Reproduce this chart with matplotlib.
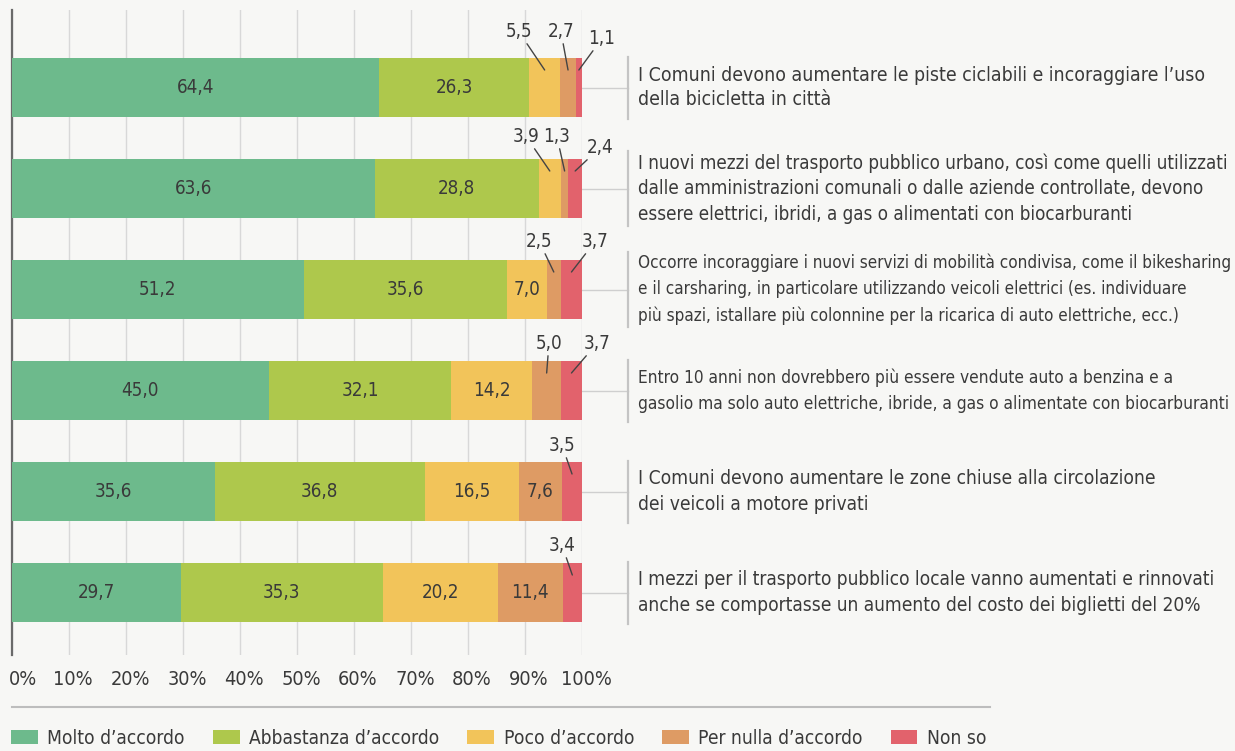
import numpy as np
import matplotlib
matplotlib.use('Agg')
import matplotlib.pyplot as plt
import matplotlib.transforms as mtransforms
from matplotlib import font_manager
from matplotlib.lines import Line2D

# Answer categories (stacked from left to right)
answers = ['Molto d\u2019accordo', 'Abbastanza d\u2019accordo', 'Poco d\u2019accordo',
           'Per nulla d\u2019accordo', 'Non so']
colors = ['#6dba8c', '#aec84c', '#f2c45a', '#de9b64', '#e2626c']

# Percentages for each statement, one list per answer
molto = [64.4, 63.6, 51.2, 45.0, 35.6, 29.7]
abbastanza = [26.3, 28.8, 35.6, 32.1, 36.8, 35.3]
poco = [5.5, 3.9, 7.0, 14.2, 16.5, 20.2]
per_nulla = [2.7, 1.3, 2.5, 5.0, 7.6, 11.4]
non_so = [1.1, 2.4, 3.7, 3.7, 3.5, 3.4]

statements = [
    'I Comuni devono aumentare le piste ciclabili e incoraggiare l\u2019uso\n'
    'della bicicletta in citt\u00e0',
    'I nuovi mezzi del trasporto pubblico urbano, cos\u00ec come quelli utilizzati\n'
    'dalle amministrazioni comunali o dalle aziende controllate, devono\n'
    'essere elettrici, ibridi, a gas o alimentati con biocarburanti',
    'Occorre incoraggiare i nuovi servizi di mobilit\u00e0 condivisa, come il bikesharing\n'
    'e il carsharing, in particolare utilizzando veicoli elettrici (es. individuare\n'
    'pi\u00f9 spazi, istallare pi\u00f9 colonnine per la ricarica di auto elettriche, ecc.)',
    'Entro 10 anni non dovrebbero pi\u00f9 essere vendute auto a benzina e a\n'
    'gasolio ma solo auto elettriche, ibride, a gas o alimentate con biocarburanti',
    'I Comuni devono aumentare le zone chiuse alla circolazione\n'
    'dei veicoli a motore privati',
    'I mezzi per il trasporto pubblico locale vanno aumentati e rinnovati\n'
    'anche se comportasse un aumento del costo dei biglietti del 20%',
]

ticks = list(range(0, 101, 10))
tick_labels = ['{}%'.format(t) for t in ticks]

# Placement of the small values written above the bar:
# (row, segment, label x in %, label height above bar centre in px)
callouts = [
    (0, 2, 88.9, 56), (0, 3, 96.3, 56), (0, 4, 103.5, 49),
    (1, 2, 90.2, 52), (1, 3, 95.6, 52), (1, 4, 103.2, 41),
    (2, 3, 92.5, 48), (2, 4, 102.3, 48),
    (3, 3, 94.2, 47), (3, 4, 102.6, 47),
    (4, 4, 96.5, 46),
    (5, 4, 96.5, 47),
]
# right edge (px) of the widest line of each statement
text_right = [1205, 1230, 1232, 1232, 1155, 1214]

# condensed face if available
names = {f.name for f in font_manager.fontManager.ttflist}
if 'Liberation Sans Narrow' in names:
    plt.rcParams['font.family'] = 'Liberation Sans Narrow'
else:
    plt.rcParams['font.family'] = 'DejaVu Sans'
    plt.rcParams['font.stretch'] = 'condensed'

TXT = '#3a3a3a'
BG = '#f7f7f5'
PX = 101.0          # pixels per row
BAR_H = 59 / PX
TEXT_X = 638        # left edge of statements, px

fig = plt.figure(figsize=(12.35, 7.51), dpi=100, facecolor=BG)
ax = fig.add_axes([12 / 1235, 1 - 655 / 751, 570 / 1235, 645 / 751])
ax.set_facecolor(BG)

series = np.array([molto, abbastanza, poco, per_nulla, non_so])
rows = np.arange(len(molto))
left = np.zeros(len(molto))
for vals, name, col in zip(series, answers, colors):
    ax.barh(rows, vals, left=left, height=BAR_H, color=col, label=name, zorder=3)
    left += vals

starts = np.vstack([np.zeros(len(molto)), np.cumsum(series, axis=0)[:-1]])
centres = starts + series / 2

# values written inside the segments
for s in range(series.shape[0]):
    for r in rows:
        v = series[s, r]
        if v >= 7:
            ax.text(centres[s, r], r, '{:.1f}'.format(v).replace('.', ','),
                    ha='center', va='center', fontsize=13.5, color=TXT, zorder=4)

# small values with leader lines
for r, s, lx, dy in callouts:
    v = series[s, r]
    ax.annotate('{:.1f}'.format(v).replace('.', ','),
                xy=(centres[s, r], r - 17.5 / PX), xytext=(lx, r - dy / PX),
                ha='center', va='center', fontsize=13.5, color=TXT,
                annotation_clip=False, zorder=5,
                arrowprops=dict(arrowstyle='-', color='#444444', lw=1,
                                shrinkA=0, shrinkB=0))

ax.set_xlim(0, 100)
ax.set_ylim((655 - 87.5) / PX, (10 - 87.5) / PX)

# statements on the right with connector and bracket
x_text = (TEXT_X - 12) / 5.7
x_brk = (628 - 12) / 5.7
texts = []
for r, txt in enumerate(statements):
    n = txt.count('\n') + 1
    half = (13 * n + 36) / 2 / PX
    ax.plot([100, x_brk], [r, r], color='#cfcfcf', lw=1, clip_on=False)
    ax.plot([x_brk, x_brk], [r - half, r + half], color='#c4c4c4', lw=1.6,
            clip_on=False)
    t = ax.text(x_text, r, txt, ha='left', va='center', fontsize=15, color=TXT,
                linespacing=1.22, clip_on=False)
    texts.append(t)

# shrink each statement so its longest line ends where it should,
# keeping about 25 px between lines
renderer = fig.canvas.get_renderer()
for t, right in zip(texts, text_right):
    w = t.get_window_extent(renderer).width
    fs = 15 * (right - TEXT_X) / w
    t.set_fontsize(fs)
    t.set_linespacing(19.5 / fs)

ax.set_xticks(ticks)
ax.set_xticklabels(tick_labels, fontsize=14.3, color=TXT)
ax.set_yticks([])
ax.tick_params(axis='x', length=0, pad=11)
# nudge the percent labels to the right; first one starts at the axis
for i, lab in enumerate(ax.get_xticklabels()):
    dx = -3 if i == 0 else 4
    if i == 0:
        lab.set_ha('left')
    shift = mtransforms.ScaledTranslation(dx / 100, 0, fig.dpi_scale_trans)
    lab.set_transform(lab.get_transform() + shift)
ax.grid(axis='x', color='#d8d8d8', lw=1, zorder=0)
for side in ['top', 'right', 'bottom']:
    ax.spines[side].set_visible(False)
ax.spines['left'].set_color('#6a6a6a')
ax.spines['left'].set_linewidth(1.6)

# separator above the legend
fig.add_artist(Line2D([12 / 1235, 990 / 1235], [1 - 707 / 751] * 2,
                      color='#bdbdbd', lw=1.5))

fig.legend(loc='center left', bbox_to_anchor=(11 / 1235, 1 - 738 / 751),
           ncol=5, frameon=False, fontsize=13.8, borderpad=0, borderaxespad=0,
           handlelength=1.4, handleheight=0.75, handletextpad=0.5,
           columnspacing=1.45, labelcolor=TXT)

fig.savefig('out.png', dpi=100, facecolor=BG)
